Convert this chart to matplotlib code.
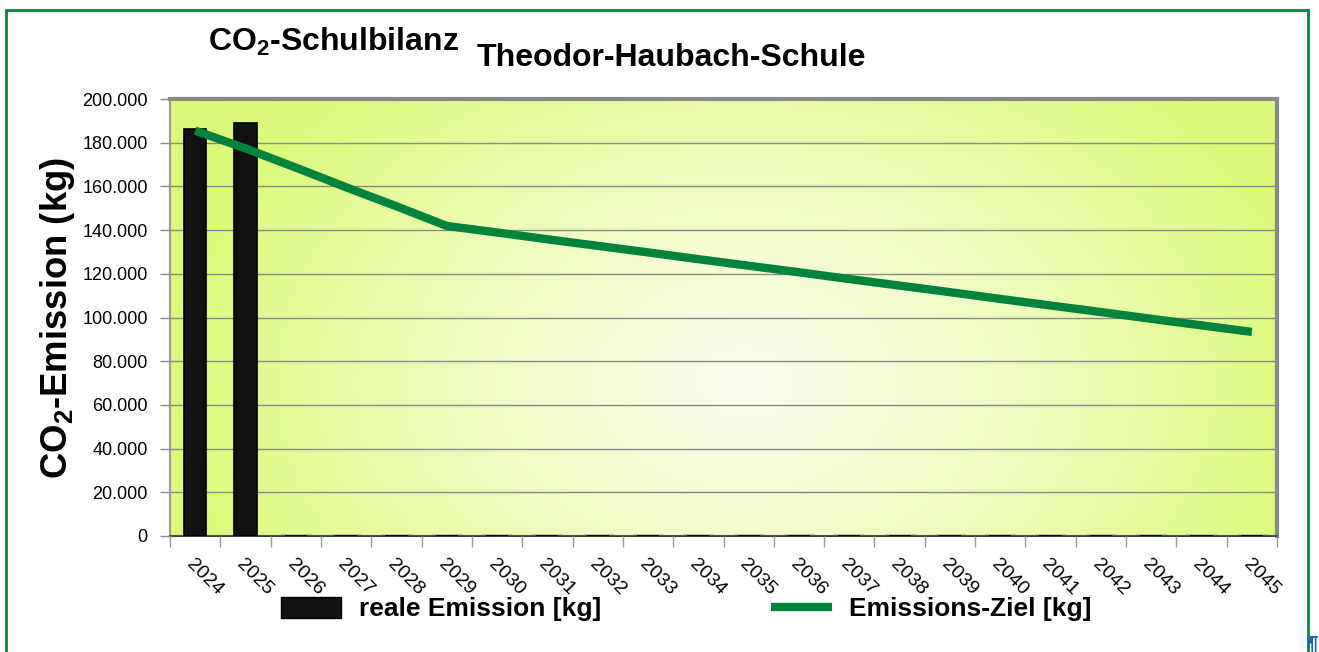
import matplotlib
matplotlib.use('Agg')
import matplotlib.pyplot as plt
import matplotlib.patches as mpatches
from matplotlib.lines import Line2D
from matplotlib.ticker import FuncFormatter
import numpy as np

years = [str(y) for y in range(2024, 2046)]
real_emission = [186300, 189000] + [0] * 20
target_emission = [185500, 177400, 168600, 159600, 150900, 141900,
                   138900, 135800, 132800, 129800, 126700, 123700,
                   120700, 117600, 114600, 111600, 108500, 105500,
                   102500, 99400, 96400, 93400]

plt.rcParams['font.family'] = ['Liberation Sans', 'DejaVu Sans']
plt.rcParams['mathtext.fontset'] = 'custom'
plt.rcParams['mathtext.rm'] = 'Liberation Sans:bold'
plt.rcParams['mathtext.it'] = 'Liberation Sans:bold'
plt.rcParams['mathtext.bf'] = 'Liberation Sans:bold'

W, H = 1319, 652
fig = plt.figure(figsize=(W / 100, H / 100), dpi=100)
fig.patch.set_facecolor('white')

ax = fig.add_axes([170 / W, 1 - 536 / H, (1277 - 170) / W, (536 - 99) / H])
x = np.arange(len(years))
ax.set_xlim(-0.5, len(years) - 0.5)
ax.set_ylim(0, 200000)

# Hintergrund-Verlauf: hell in der Mitte, gelbgrün an den Rändern
gx, gy = np.meshgrid(np.linspace(0, 1, 400), np.linspace(0, 1, 200))
d = np.sqrt(((gx - 0.52) / 0.5) ** 2 + ((gy - 0.35) / 0.9) ** 2)
t = np.clip(d / 1.05, 0, 1) ** 1.3
c0 = np.array([0xfb, 0xfd, 0xea]) / 255
c1 = np.array([0xdb, 0xfa, 0x7a]) / 255
img = c0[None, None, :] * (1 - t[..., None]) + c1[None, None, :] * t[..., None]
ax.imshow(img, extent=[-0.5, len(years) - 0.5, 0, 200000], origin='lower',
          aspect='auto', zorder=0, interpolation='bilinear')

ax.set_yticks(np.arange(0, 200001, 20000))
ax.grid(axis='y', color='#8a8a8a', linewidth=1.0, zorder=1)
ax.set_axisbelow(False)

ax.bar(x, real_emission, width=0.44, color='#111111', edgecolor='#000000',
       linewidth=1.2, zorder=3)
for xi, v in zip(x, real_emission):
    if v == 0:
        ax.plot([xi - 0.3, xi + 0.3], [300, 300], color='#b5c98a',
                linewidth=2, zorder=2, solid_capstyle='butt')

ax.plot(x, target_emission, color='#00843d', linewidth=6, zorder=4,
        solid_capstyle='butt', solid_joinstyle='miter')

ax.yaxis.set_major_formatter(FuncFormatter(lambda v, p: f"{int(v):,}".replace(',', '.')))
ax.tick_params(axis='y', labelsize=13, length=7, width=1, color='#8a8a8a',
               pad=9, direction='out')

ax.set_xticks(x)
ax.set_xticklabels(years)
ax.set_xticks(np.arange(-0.5, len(years)), minor=True)
ax.tick_params(axis='x', which='major', length=0, pad=14, labelsize=14)
ax.tick_params(axis='x', which='minor', length=8, width=1, color='#9a9a9a',
               direction='out')
for lbl in ax.get_xticklabels():
    lbl.set_rotation(-45)
    lbl.set_ha('left')
    lbl.set_va('top')
    lbl.set_rotation_mode('anchor')

ax.spines['top'].set_color('#8a8a8a')
ax.spines['top'].set_linewidth(3)
ax.spines['right'].set_color('#8a8a8a')
ax.spines['right'].set_linewidth(3)
ax.spines['left'].set_color('#9a9a9a')
ax.spines['left'].set_linewidth(1.5)
ax.spines['bottom'].set_color('#404040')
ax.spines['bottom'].set_linewidth(1.5)

# Titel
fig.text(208 / W, 1 - 51 / H, r'CO$_2$-Schulbilanz', fontsize=23,
         weight='bold', ha='left', va='baseline')
fig.text(477 / W, 1 - 66 / H, 'Theodor-Haubach-Schule', fontsize=23,
         weight='bold', ha='left', va='baseline')
fig.text(58 / W, 1 - 318 / H, r'CO$_2$-Emission (kg)', fontsize=26.3,
         weight='bold', rotation=90, ha='center', va='center')

handles = [mpatches.Patch(facecolor='#111111', edgecolor='#000000',
                          label='reale Emission [kg]'),
           Line2D([], [], color='#00843d', linewidth=6,
                  solid_capstyle='butt', label='Emissions-Ziel [kg]')]
fig.legend(handles=handles, loc='center', bbox_to_anchor=(686 / W, 1 - 609 / H),
           ncol=2, frameon=False, prop={'size': 19, 'weight': 'bold'},
           handlelength=2.3, handleheight=0.85, handletextpad=0.65,
           columnspacing=6.45, borderpad=0)

# grüner Rahmen
fig.patches.append(mpatches.Rectangle((6 / W, -0.05), (1308 - 6) / W,
                                      1 - 10 / H + 0.05,
                                      transform=fig.transFigure, fill=False,
                                      edgecolor='#00853e', linewidth=2))
fig.text(1306 / W, 1 - 644 / H, '¶', color='#1f5fbf', fontsize=15,
         weight='bold', ha='left', va='center')

fig.savefig('out.png', dpi=100)
